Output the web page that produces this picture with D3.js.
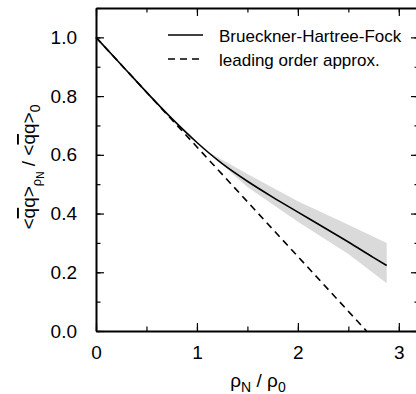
<!DOCTYPE html>
<html><head><meta charset="utf-8">
<script src="https://cdn.jsdelivr.net/npm/d3@7"></script>
<style>body{margin:0;background:#fff}svg{display:block}text{font-family:"Liberation Sans",Arial,sans-serif;fill:#000}</style>
</head><body>
<script>
// Brueckner-Hartree-Fock curve
const bhfX = [0, 0.25, 0.5, 0.75, 1.0, 1.25, 1.5, 1.75, 2.0, 2.25, 2.5, 2.75, 2.88];
const bhfY = [1.0, 0.907, 0.8135, 0.724, 0.642, 0.57, 0.51, 0.456, 0.405, 0.354, 0.303, 0.25, 0.223];
// uncertainty band
const bandX = [1.1, 1.5, 2.0, 2.5, 2.88];
const bandLo = [0.612, 0.49, 0.372, 0.262, 0.163];
const bandHi = [0.612, 0.535, 0.442, 0.362, 0.30];
// leading order approx
const loX = [0, 2.68];
const loY = [1.0, 0.0];
const xTicks = [0, 1, 2, 3];
const yTicks = [0.0, 0.2, 0.4, 0.6, 0.8, 1.0];
const legendLabels = ["Brueckner-Hartree-Fock", "leading order approx."];

const W = 416, H = 394;
const svg = d3.select("body").append("svg").attr("width", W).attr("height", H);
const x = d3.scaleLinear().domain([0, 3.2]).range([96, 419]);
const y = d3.scaleLinear().domain([0, 1.1]).range([331, 8]);

// band
const band = bandX.map((d, i) => ({x: d, lo: bandLo[i], hi: bandHi[i]}));
svg.append("path").datum(band)
  .attr("fill", "#dadada")
  .attr("d", d3.area().x(d => x(d.x)).y0(d => y(d.lo)).y1(d => y(d.hi)));

// curves
const line = d3.line().x(d => x(d[0])).y(d => y(d[1]));
svg.append("path").datum(loX.map((d, i) => [d, loY[i]]))
  .attr("fill", "none").attr("stroke", "#000").attr("stroke-width", 1.6)
  .attr("stroke-dasharray", "7,5").attr("d", line);
svg.append("path").datum(bhfX.map((d, i) => [d, bhfY[i]]))
  .attr("fill", "none").attr("stroke", "#000").attr("stroke-width", 1.6)
  .attr("d", line.curve(d3.curveMonotoneX));

// axes
const minorX = d3.range(0, 3.21, 0.5);
const minorY = d3.range(0, 1.101, 0.1);
function addAxis(gen, transform) {
  const g = svg.append("g").attr("transform", transform).call(gen);
  g.selectAll("path.domain").attr("stroke-width", 2);
  g.selectAll("line").attr("stroke-width", 1.2);
  return g;
}
// minor ticks
addAxis(d3.axisBottom(x).tickValues(minorX).tickSizeInner(-4.5).tickSizeOuter(0).tickFormat(""), `translate(0,${y(0)})`).select(".domain").remove();
addAxis(d3.axisTop(x).tickValues(minorX).tickSizeInner(-4.5).tickSizeOuter(0).tickFormat(""), `translate(0,${y(1.1)})`).select(".domain").remove();
addAxis(d3.axisLeft(y).tickValues(minorY).tickSizeInner(-4.5).tickSizeOuter(0).tickFormat(""), `translate(${x(0)},0)`).select(".domain").remove();
addAxis(d3.axisRight(y).tickValues(minorY).tickSizeInner(-4.5).tickSizeOuter(0).tickFormat(""), `translate(${x(3.2)},0)`).select(".domain").remove();
// major ticks
const gb = addAxis(d3.axisBottom(x).tickValues(xTicks).tickSizeInner(-8).tickSizeOuter(0).tickPadding(15).tickFormat(d3.format("d")), `translate(0,${y(0)})`);
gb.selectAll("text").attr("font-size", 19).attr("font-family", "Liberation Sans, Arial, sans-serif").attr("fill", "#000");
addAxis(d3.axisTop(x).tickValues(xTicks).tickSizeInner(-8).tickSizeOuter(0).tickFormat(""), `translate(0,${y(1.1)})`);
const gl = addAxis(d3.axisLeft(y).tickValues(yTicks).tickSizeInner(-8).tickSizeOuter(0).tickPadding(19).tickFormat(d3.format(".1f")), `translate(${x(0)},0)`);
gl.selectAll("text").attr("font-size", 19).attr("font-family", "Liberation Sans, Arial, sans-serif").attr("fill", "#000");
addAxis(d3.axisRight(y).tickValues(yTicks).tickSizeInner(-8).tickSizeOuter(0).tickFormat(""), `translate(${x(3.2)},0)`);

// legend
const leg = svg.append("g");
legendLabels.forEach((t, i) => {
  const yy = 35 + i * 24;
  leg.append("line").attr("x1", 168).attr("x2", 203).attr("y1", yy).attr("y2", yy)
    .attr("stroke", "#000").attr("stroke-width", 1.6)
    .attr("stroke-dasharray", i === 1 ? "7,5" : null);
  leg.append("text").attr("x", 219).attr("y", yy + 6.5).attr("font-size", 17).text(t);
});

// x label
const xl = svg.append("text").attr("x", 258).attr("y", 387).attr("text-anchor", "middle").attr("font-size", 19);
xl.append("tspan").text("ρ");
xl.append("tspan").attr("font-size", 14).attr("dy", 5).text("N");
xl.append("tspan").attr("dy", -5).text(" / ρ");
xl.append("tspan").attr("font-size", 14).attr("dy", 5).text("0");

// y label
const yl = svg.append("text").attr("transform", "translate(35,167) rotate(-90)")
  .attr("text-anchor", "middle").attr("font-size", 19);
yl.append("tspan").text("<");
yl.append("tspan").style("text-decoration", "overline").text("q");
yl.append("tspan").text("q>");
yl.append("tspan").attr("font-size", 13).attr("dy", 6).text("ρ");
yl.append("tspan").attr("font-size", 10).attr("dy", 3).text("N");
yl.append("tspan").attr("dy", -9).text(" / <");
yl.append("tspan").style("text-decoration", "overline").text("q");
yl.append("tspan").text("q>");
yl.append("tspan").attr("font-size", 14).attr("dy", 5).text("0");
</script>
</body></html>
